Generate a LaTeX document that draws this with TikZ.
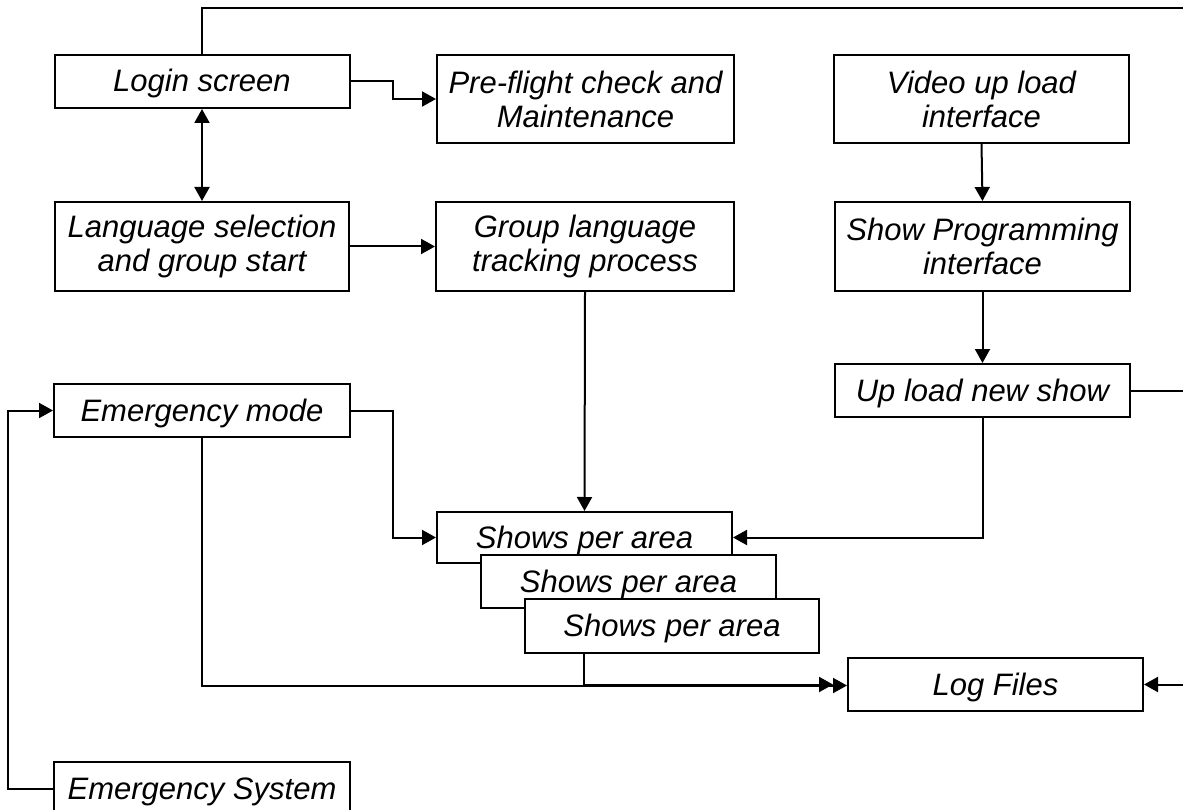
\documentclass[tikz,border=0pt]{standalone}
\usepackage{fontspec}
\setmainfont{Liberation Sans}
\usetikzlibrary{arrows.meta}
\begin{document}
\begin{tikzpicture}[x=1pt,y=-1pt,
  box/.style={draw, line width=2pt, fill=white, inner sep=0pt, align=center,
    font=\fontsize{31}{34}\selectfont\itshape, minimum width=295pt},
  one/.style={text height=22pt, text depth=1pt},
  conn/.style={line width=2pt},
  arr/.style={conn, -{Triangle[length=14pt,width=15pt]}},
  barr/.style={conn, {Triangle[length=14pt,width=15pt]}-{Triangle[length=14pt,width=15pt]}}]
\useasboundingbox (0,0) rectangle (1183,810);
\fill[white] (0,0) rectangle (1183,810);

% nodes
\node[box, one, minimum height=53pt] (login) at (202,81.5) {Login screen};
\node[box, minimum height=88pt, minimum width=297pt] (pre) at (585.5,99) {Pre-flight check and\\Maintenance};
\node[box, minimum height=88pt] (video) at (981.5,99) {Video up load\\interface};
\node[box, minimum height=89pt, minimum width=294pt] (lang) at (202,246.5) {Language selection\\and group start};
\node[box, minimum height=89pt, minimum width=298pt] (group) at (585,246.5) {Group language\\tracking process};
\node[box, minimum height=89pt] (prog) at (982.5,246.5) {Show Programming\\interface};
\node[box, one, minimum height=53pt] (upload) at (982.5,390.5) {Up load new show};
\node[box, one, minimum height=53pt, minimum width=296pt] (emode) at (202,410.5) {Emergency mode};
\node[box, one, minimum height=51pt] (shows1) at (584.5,537.5) {Shows per area};
\node[box, one, minimum height=53pt] (shows2) at (628.5,581.5) {Shows per area};
\node[box, one, minimum height=54pt, minimum width=294pt] (shows3) at (672,626) {Shows per area};
\node[box, one, minimum height=53pt] (log) at (995.5,684.5) {Log Files};
\node[box, one, minimum height=53pt, minimum width=296pt] (esys) at (202,788.5) {Emergency System};

% helper coordinates
\coordinate (rtop) at (1192,8);
\coordinate (rlog) at (1192,684.5);
\coordinate (rup) at (1192,390.5);

% connectors
\draw[arr] (login.north) -- (202,8) -- (rtop) -- (rlog) -- (log.east);
\draw[conn] (upload.east) -- (rup);
\draw[arr] (login.east) -- (393,81.5) -- (393,99) -- (pre.west);
\draw[barr] (login.south) -- (lang.north);
\draw[arr] (lang.east) -- (group.west);
\draw[arr] (video.south) -- (prog.north);
\draw[arr] (prog.south) -- (upload.north);
\draw[arr] (upload.south) -- (982.5,537.5) -- (shows1.east);
\draw[arr] (group.south) -- (shows1.north);
\draw[arr] (emode.east) -- (393,410.5) -- (393,537.5) -- (shows1.west);
\draw[arr] (emode.south) -- (202,685.5) -- (log.west |- 0,685.5);
\draw[arr] (shows3.south -| 584,0) -- (584,684.5) -- ([xshift=-14pt]log.west);
\draw[arr] (esys.west) -- (8,788.5) -- (8,410.5) -- (emode.west);
\end{tikzpicture}
\end{document}
